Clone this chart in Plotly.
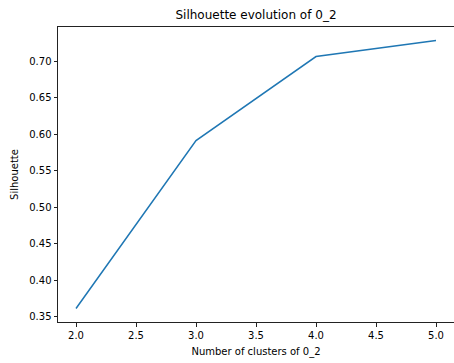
import plotly.graph_objects as go

n_clusters = [2, 3, 4, 5]
silhouette = [0.3615, 0.5915, 0.7065, 0.7286]

x_ticks = [2.0, 2.5, 3.0, 3.5, 4.0, 4.5, 5.0]
y_ticks = [0.35, 0.40, 0.45, 0.50, 0.55, 0.60, 0.65, 0.70]

font_family = "DejaVu Sans"
fig = go.Figure()
fig.add_trace(go.Scatter(
    x=n_clusters, y=silhouette, mode="lines",
    line=dict(color="#1f77b4", width=1.5),
    showlegend=False, cliponaxis=False,
))

fig.update_layout(
    width=454, height=363,
    margin=dict(l=58, r=0, t=27, b=41),
    paper_bgcolor="white", plot_bgcolor="white",
    font=dict(family=font_family, size=10, color="#000000"),
    title=dict(text="Silhouette evolution of 0_2", x=0.5, xref="paper",
               xanchor="center", y=1 - 14.5 / 363, yref="container", yanchor="middle",
               font=dict(size=12, color="#000000")),
)
fig.update_xaxes(
    range=[1.85, 5.15], tickvals=x_ticks, ticktext=[f"{v:.1f}" for v in x_ticks],
    showgrid=False, zeroline=False, automargin=False,
    showline=True, linecolor="#222222", linewidth=1, mirror=True,
    ticks="outside", ticklen=3.5, tickwidth=0.8, tickcolor="#222222",
    title=dict(text="Number of clusters of 0_2", standoff=8, font=dict(size=10)),
)
fig.update_yaxes(
    range=[0.3431, 0.7470], tickvals=y_ticks, ticktext=[f"{v:.2f}" for v in y_ticks],
    showgrid=False, zeroline=False, automargin=False,
    showline=True, linecolor="#222222", linewidth=1, mirror=False,
    ticks="outside", ticklen=3.5, tickwidth=0.8, tickcolor="#222222",
    title=dict(text="Silhouette", standoff=8, font=dict(size=10)),
)
fig.write_html(
    "out.html",
    config={"displayModeBar": False},
    post_script="document.body.style.margin='0';document.body.style.overflow='hidden';",
)
